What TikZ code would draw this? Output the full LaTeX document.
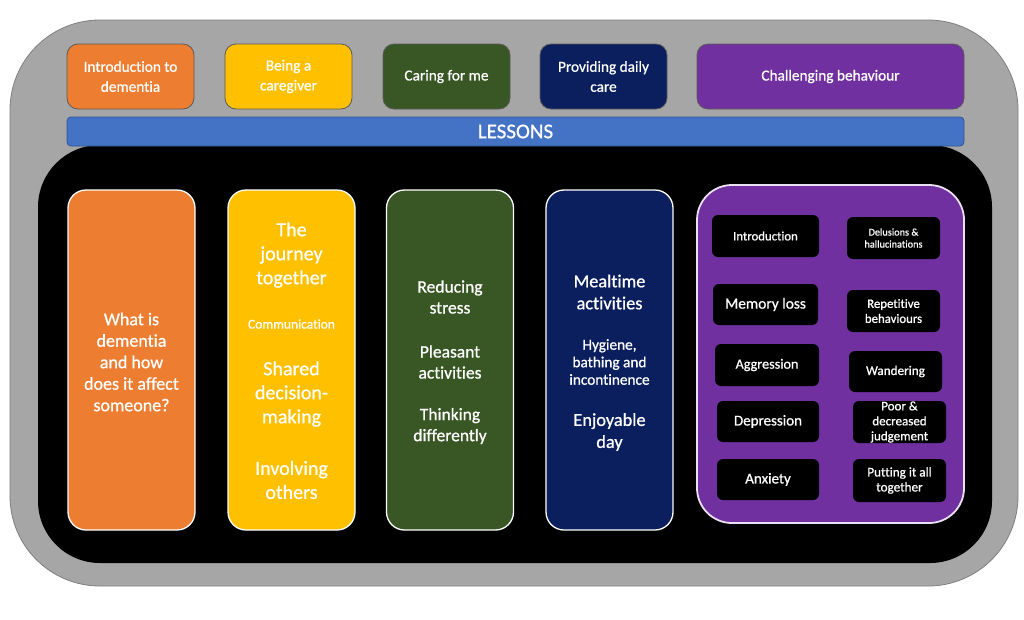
\documentclass[tikz,border=0pt]{standalone}
\usepackage{fontspec}
\setmainfont[Ligatures={NoCommon}, FakeBold=0.8]{Carlito}
\definecolor{cOrange}{HTML}{ED7D31}
\definecolor{cYellow}{HTML}{FFC000}
\definecolor{cGreen}{HTML}{395724}
\definecolor{cNavy}{HTML}{0B1F5E}
\definecolor{cPurple}{HTML}{7030A0}
\definecolor{cBlue}{HTML}{4472C4}
\definecolor{cBlueEdge}{HTML}{2F5597}
\definecolor{cGray}{HTML}{A6A6A6}
\definecolor{cGrayEdge}{HTML}{7F7F7F}
\definecolor{cBoxEdge}{HTML}{5A5A5A}
\tikzset{
  topbox/.style={draw=cBoxEdge, line width=0.8pt, rounded corners=11pt, minimum height=65pt, inner sep=0pt,
    text=white, align=center, font=\fontsize{15.3}{20}\selectfont},
  tallbox/.style={draw=white, line width=1.3pt, rounded corners=18pt, minimum width=127pt, minimum height=340pt, inner sep=0pt},
  innerbox/.style={fill=black, rounded corners=6pt, inner sep=0pt, text=white, align=center},
  wtext/.style={text=white, align=center, inner sep=0pt},
}
\begin{document}
\begin{tikzpicture}[x=1pt,y=-1pt]
\useasboundingbox (0,0) rectangle (1024,619);
\fill[white] (0,0) rectangle (1024,619);
% frames
\node[draw=cGrayEdge, line width=0.8pt, fill=cGray, rounded corners=90pt, minimum width=1008pt, minimum height=566pt, inner sep=0pt] (outer) at (514,303) {};
\node[fill=black, rounded corners=62pt, minimum width=954pt, minimum height=418pt, inner sep=0pt] (inner) at (515,354) {};
\node[draw=cBlueEdge, line width=0.8pt, fill=cBlue, rounded corners=4pt, minimum width=897pt, minimum height=29pt, inner sep=0pt,
  text=white, font=\fontsize{21}{24}\selectfont] (lessons) at (515.5,131.5) {LESSONS};
% top boxes
\node[topbox, fill=cOrange, minimum width=127pt] (t1) at (130.5,76.5) {Introduction to\\dementia};
\node[topbox, fill=cYellow, minimum width=127pt] (t2) at (288.5,76.5) {Being a\\caregiver};
\node[topbox, fill=cGreen, minimum width=127pt] (t3) at (446.5,76.5) {Caring for me};
\node[topbox, fill=cNavy, minimum width=127pt] (t4) at (603.5,76.5) {Providing daily\\care};
\node[topbox, fill=cPurple, minimum width=267pt] (t5) at (830.5,76.5) {Challenging behaviour};
% tall boxes
\node[tallbox, fill=cOrange] (b1) at (131.5,360) {};
\node[tallbox, fill=cYellow] (b2) at (291.5,360) {};
\node[tallbox, fill=cGreen] (b3) at (450,360) {};
\node[tallbox, fill=cNavy] (b4) at (609.5,360) {};
\node[draw=white!85!cPurple, line width=1.8pt, fill=cPurple, rounded corners=35pt, minimum width=267pt, minimum height=338pt, inner sep=0pt] (b5) at (830.5,354) {};
% orange text
\node[wtext, font=\fontsize{18}{21.5}\selectfont] (o1) at (131.5,362) {What is\\dementia\\and how\\does it affect\\someone?};
% yellow text
\node[wtext, font=\fontsize{20}{24}\selectfont] (y1) at (291.5,255) {The\\journey\\together};
\node[wtext, font=\fontsize{13.5}{16}\selectfont] (y2) at (291.5,324) {Communication};
\node[wtext, font=\fontsize{20}{24}\selectfont] (y3) at (291.5,394) {Shared\\decision-\\making};
\node[wtext, font=\fontsize{20}{24}\selectfont] (y4) at (291.5,480) {Involving\\others};
% green text
\node[wtext, font=\fontsize{17.5}{21}\selectfont] (g1) at (450,297) {Reducing\\stress};
\node[wtext, font=\fontsize{17.5}{21}\selectfont] (g2) at (450,362) {Pleasant\\activities};
\node[wtext, font=\fontsize{17.5}{21}\selectfont] (g3) at (450,426) {Thinking\\differently};
% navy text
\node[wtext, font=\fontsize{18.3}{22}\selectfont] (n1) at (609.5,292) {Mealtime\\activities};
\node[wtext, font=\fontsize{15.3}{17.5}\selectfont] (n2) at (609.5,362) {Hygiene,\\bathing and\\incontinence};
\node[wtext, font=\fontsize{18.3}{22}\selectfont] (n3) at (609.5,432) {Enjoyable\\day};
% purple inner boxes
\node[innerbox, minimum width=107pt, minimum height=42pt, font=\fontsize{12.8}{14}\selectfont] (i1) at (765.5,236) {Introduction};
\node[innerbox, minimum width=105pt, minimum height=41pt, font=\fontsize{15.4}{17}\selectfont] (i2) at (765.5,304.5) {Memory loss};
\node[innerbox, minimum width=104pt, minimum height=42pt, font=\fontsize{14.2}{16}\selectfont] (i3) at (767,365) {Aggression};
\node[innerbox, minimum width=102pt, minimum height=41pt, font=\fontsize{15}{17}\selectfont] (i4) at (768,421.5) {Depression};
\node[innerbox, minimum width=102pt, minimum height=41pt, font=\fontsize{15}{17}\selectfont] (i5) at (768,479.5) {Anxiety};
\node[innerbox, minimum width=93pt, minimum height=42pt, font=\fontsize{10.3}{12}\selectfont] (j1) at (893.5,238) {Delusions \&\\hallucinations};
\node[innerbox, minimum width=93pt, minimum height=42pt, font=\fontsize{12.8}{15}\selectfont] (j2) at (893.5,311) {Repetitive\\behaviours};
\node[innerbox, minimum width=93pt, minimum height=41pt, font=\fontsize{13.2}{15}\selectfont] (j3) at (895.5,371.5) {Wandering};
\node[innerbox, minimum width=93pt, minimum height=42pt, font=\fontsize{13}{15}\selectfont] (j4) at (899.5,422) {Poor \&\\decreased\\judgement};
\node[innerbox, minimum width=93pt, minimum height=43pt, font=\fontsize{13.2}{15}\selectfont] (j5) at (899.5,480.5) {Putting it all\\together};
\end{tikzpicture}
\end{document}
